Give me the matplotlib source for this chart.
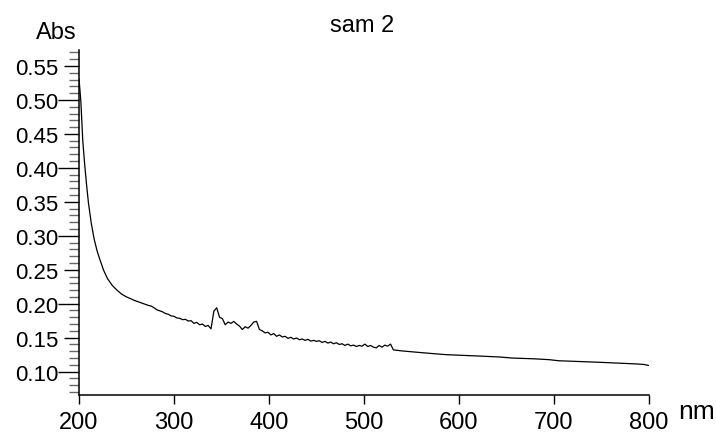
"""
UV-Vis 吸收光谱 (sam 2)
"""
import numpy as np
import matplotlib
matplotlib.use("Agg")
import matplotlib.pyplot as plt
from matplotlib.ticker import FixedLocator, MultipleLocator, FormatStrFormatter

plt.rcParams["font.family"] = ["Liberation Sans", "DejaVu Sans"]

TITLE = "sam 2"
X_LABEL = "nm"
Y_LABEL = "Abs"

x_ticks = [200, 300, 400, 500, 600, 700, 800]
y_ticks = [0.10, 0.15, 0.20, 0.25, 0.30, 0.35, 0.40, 0.45, 0.50, 0.55]

# 短波段的陡峭部分
wl_head = [200, 201, 202, 204, 206, 208, 210, 213, 216, 219, 222, 226,
           230, 235, 240, 245, 250, 255]
abs_head = [0.531, 0.515, 0.497, 0.440, 0.405, 0.375, 0.348, 0.318, 0.295,
            0.278, 0.265, 0.249, 0.237, 0.227, 0.220, 0.214, 0.210, 0.207]

# 中间有噪声的部分，每 3 nm 读一个点
wl_mid = list(range(258, 532, 3))
abs_mid = [
    0.205, 0.2035, 0.202, 0.2005, 0.199, 0.1975, 0.1965, 0.194, 0.191, 0.1895,
    0.188, 0.1855, 0.1845, 0.182, 0.1815, 0.179, 0.1785, 0.1765, 0.177, 0.1745,
    0.175, 0.171, 0.1725, 0.169, 0.170, 0.1665, 0.168, 0.163, 0.189, 0.194,
    0.180, 0.178, 0.169, 0.173, 0.171, 0.174, 0.170, 0.167, 0.162, 0.166,
    0.164, 0.168, 0.173, 0.174, 0.162, 0.160, 0.157, 0.158, 0.154, 0.156,
    0.152, 0.154, 0.151, 0.152, 0.149, 0.1505, 0.148, 0.1495, 0.147, 0.148,
    0.146, 0.1475, 0.145, 0.146, 0.1445, 0.1455, 0.143, 0.1445, 0.142, 0.1435,
    0.141, 0.1425, 0.140, 0.141, 0.1385, 0.1405, 0.138, 0.139, 0.137, 0.1385,
    0.1375, 0.1405, 0.137, 0.1385, 0.136, 0.135, 0.1385, 0.136, 0.139, 0.1375,
    0.1405, 0.132,
]

# 长波段平滑部分
wl_tail = [534, 540, 560, 586, 620, 642, 656, 680, 695, 705, 747, 787, 795, 800]
abs_tail = [0.1315, 0.1305, 0.128, 0.125, 0.123, 0.1216, 0.120, 0.1188,
            0.1176, 0.116, 0.1138, 0.1113, 0.1105, 0.109]

assert len(wl_mid) == len(abs_mid)

wl = np.concatenate([wl_head, wl_mid, wl_tail])
ab = np.concatenate([abs_head, abs_mid, abs_tail])

fig = plt.figure(figsize=(7.16, 4.39), dpi=100)
ax = fig.add_axes([0.1103, 0.0986, 0.796, 0.786])

ax.plot(wl, ab, color="black", linewidth=0.9)

ax.set_xlim(200, 800)
ax.set_ylim(0.066, 0.574)

ax.spines["top"].set_visible(False)
ax.spines["right"].set_visible(False)
for s in ("left", "bottom"):
    ax.spines[s].set_linewidth(1.1)

ax.xaxis.set_major_locator(FixedLocator(x_ticks))
ax.yaxis.set_major_locator(FixedLocator(y_ticks))
ax.yaxis.set_minor_locator(MultipleLocator(0.01))
ax.yaxis.set_major_formatter(FormatStrFormatter("%.2f"))

ax.tick_params(axis="x", direction="out", length=6.5, width=1.0,
               labelsize=17, pad=5.5)
ax.tick_params(axis="y", which="major", direction="out", length=10.8,
               width=1.0, labelsize=16, pad=3.8)
ax.tick_params(axis="y", which="minor", direction="out", length=7.2,
               width=1.0, color="#666666")

# 0.x0 的刻度更长
for t, v in zip(ax.yaxis.get_major_ticks(len(y_ticks)), y_ticks):
    if round(v * 100) % 10 == 0:
        t.tick1line.set_markersize(15.1)

fig.text(56 / 716, 1 - 39 / 439, Y_LABEL, fontsize=17, ha="center", va="baseline")
fig.text(362 / 716, 1 - 31.7 / 439, TITLE, fontsize=17, ha="center", va="baseline")
fig.text(697 / 716, 1 - 419 / 439, X_LABEL, fontsize=19, ha="center", va="baseline")

fig.savefig("out.png", dpi=100)
